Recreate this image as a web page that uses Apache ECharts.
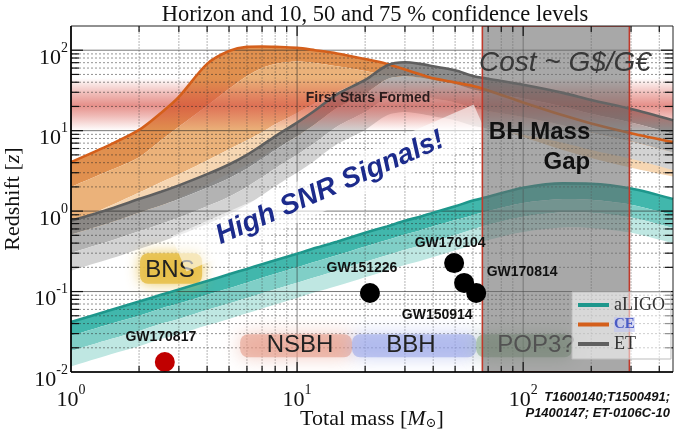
<!DOCTYPE html>
<html>
<head>
<meta charset="utf-8">
<script src="https://cdn.jsdelivr.net/npm/echarts@6/dist/echarts.min.js"></script>
<style>
  html, body { margin: 0; padding: 0; background: #fff; }
  #chart { width: 674px; height: 434px; }
</style>
</head>
<body>
<div id="chart"></div>
<script>
// Total mass grid (solar masses) shared by every detector curve
const massGrid = [1, 1.5, 2, 2.5, 3, 4, 5, 6, 7, 8, 10, 12, 15, 20, 25, 30, 35, 40, 50, 60, 70, 100, 150, 200, 300, 460];

// Cosmic Explorer: horizon and 10 / 50 / 75 % redshift curves
const ceHorizon = [4.07, 6.76, 10.2, 16.6, 26.3, 67.6, 97.7, 110, 111, 110, 107, 100, 91.2, 77.6, 67.6, 57.5, 50.1, 44.7, 39.8, 35.9, 31.6, 22.4, 15.5, 12.3, 9.3, 7.2];
const ce10 = [2.0, 3.24, 4.68, 7.59, 11.2, 20.4, 33.1, 47.9, 60.3, 67.6, 72.4, 69.2, 63.1, 55.0, 47.9, 41.7, 37.2, 33.1, 29.5, 26.9, 24.0, 17.0, 11.7, 9.33, 7.08, 5.50];
const ce50 = [0.708, 1.17, 1.70, 2.29, 2.88, 4.27, 5.89, 7.59, 9.55, 12.0, 16.6, 21.9, 30.2, 41.7, 47.9, 43.7, 38.0, 33.9, 29.5, 26.3, 23.4, 16.6, 11.5, 9.12, 6.92, 5.37];
const ce75 = [0.355, 0.589, 0.851, 1.15, 1.45, 2.14, 2.95, 3.80, 4.79, 6.03, 8.32, 11.0, 15.1, 20.9, 24.0, 21.9, 19.1, 17.0, 14.8, 13.2, 11.7, 8.32, 5.75, 4.57, 3.47, 2.69];

// Einstein Telescope
const etHorizon = [0.759, 1.07, 1.41, 1.74, 2.09, 2.88, 3.80, 5.01, 6.61, 8.51, 12.6, 17.8, 28.2, 42.7, 64.6, 70.8, 67.6, 63.1, 56.2, 47.9, 44.2, 37.2, 29.5, 24.0, 18.6, 13.5];
const et10 = [0.513, 0.724, 0.955, 1.17, 1.41, 1.95, 2.57, 3.39, 4.47, 5.75, 8.51, 12.0, 19.1, 28.8, 43.7, 47.9, 45.7, 42.7, 38.0, 32.4, 29.9, 25.1, 20.0, 16.2, 12.6, 9.12];
const et50 = [0.302, 0.427, 0.562, 0.692, 0.832, 1.15, 1.51, 2.0, 2.63, 3.39, 5.01, 7.08, 11.2, 17.0, 25.7, 28.2, 26.9, 25.1, 22.4, 19.1, 17.6, 14.8, 11.7, 9.55, 7.41, 5.37];
const et75 = [0.182, 0.257, 0.339, 0.417, 0.501, 0.692, 0.912, 1.20, 1.58, 2.04, 3.02, 4.27, 6.76, 10.2, 15.5, 17.0, 16.2, 15.1, 13.5, 11.5, 10.6, 8.91, 7.08, 5.75, 4.47, 3.24];

// Advanced LIGO
const aligoHorizon = [0.0417, 0.0589, 0.0750, 0.0912, 0.106, 0.135, 0.164, 0.191, 0.219, 0.245, 0.295, 0.347, 0.417, 0.537, 0.646, 0.759, 0.851, 0.955, 1.15, 1.35, 1.51, 1.95, 2.21, 2.19, 1.91, 1.41];
const aligo10 = [0.0282, 0.0398, 0.0501, 0.0617, 0.0708, 0.0912, 0.110, 0.129, 0.148, 0.166, 0.200, 0.234, 0.282, 0.363, 0.437, 0.513, 0.575, 0.646, 0.776, 0.891, 1.0, 1.26, 1.41, 1.38, 1.20, 0.891];
const aligo50 = [0.0182, 0.0257, 0.0324, 0.0398, 0.0457, 0.0589, 0.0708, 0.0832, 0.0955, 0.107, 0.129, 0.151, 0.182, 0.234, 0.282, 0.331, 0.372, 0.417, 0.501, 0.589, 0.676, 0.851, 0.966, 0.955, 0.832, 0.617];
const aligo75 = [0.0117, 0.0166, 0.0209, 0.0257, 0.0295, 0.0380, 0.0457, 0.0537, 0.0617, 0.0692, 0.0832, 0.0977, 0.117, 0.151, 0.182, 0.214, 0.240, 0.269, 0.324, 0.380, 0.437, 0.550, 0.624, 0.617, 0.537, 0.398];

// Detected events: total mass and redshift
const eventNames = ['GW170817', 'GW151226', 'GW170104', 'GW170814', 'GW150914'];
const eventMass = [2.6, 21.0, 49.5, 54.8, 62.0];
const eventZ = [0.0133, 0.096, 0.226, 0.128, 0.096];

// Shaded regions
const massGapRange = [66, 295];
const firstStarsRange = [10, 45];

// Axis extents and decade ticks
const xRange = [1, 460];
const yRange = [0.01, 200];
const xDecades = [1, 10, 100];
const yDecades = [0.01, 0.1, 1, 10, 100];

const SANS = 'Liberation Sans';
const SERIF = 'Liberation Serif';
const SMOOTH = 0.3;

function decadeLabel(v) {
  const e = Math.log10(v);
  const r = Math.round(e);
  if (Math.abs(e - r) > 1e-6) return '';
  return '{b|10}{s|' + r + '}';
}
const labelRich = {
  b: { fontFamily: SERIF, fontSize: 22, lineHeight: 34, color: '#111' },
  s: { fontFamily: SERIF, fontSize: 14, verticalAlign: 'top', color: '#111' }
};

// a custom series that draws one group of shapes from data coordinates
function layer(z, draw, clip) {
  return {
    type: 'custom', coordinateSystem: 'cartesian2d', z, silent: true,
    clip: clip !== false, animation: false,
    data: [[xRange[0], yRange[0]]],
    renderItem: (params, api) => draw(api)
  };
}

// filled region between two curves; the corner points are doubled so the
// smoothing keeps the ends square
function band(upper, lower, fill, z) {
  return layer(z, api => {
    const top = massGrid.map((m, i) => api.coord([m, upper[i]]));
    const bottom = massGrid.map((m, i) => api.coord([m, lower[i]])).reverse();
    const pts = [top[0]].concat(top, [top[top.length - 1], bottom[0]], bottom, [bottom[bottom.length - 1]]);
    return { type: 'polygon', shape: { points: pts, smooth: SMOOTH }, style: { fill } };
  });
}

function rectBetween(api, x0, y0, x1, y1) {
  const a = api.coord([x0, y1]);
  const b = api.coord([x1, y0]);
  return { x: a[0], y: a[1], width: b[0] - a[0], height: b[1] - a[1] };
}

function label(api, at, text, style, extra) {
  const p = api.coord(at);
  return Object.assign({
    type: 'text', x: p[0], y: p[1],
    style: Object.assign({ text, align: 'center', verticalAlign: 'middle' }, style)
  }, extra || {});
}

function horizonLine(name, values, color) {
  return {
    name, type: 'line', z: 5, showSymbol: false, silent: true, animation: false, smooth: SMOOTH,
    data: massGrid.map((m, i) => [m, values[i]]),
    lineStyle: { color, width: 2.6 },
    itemStyle: { color }
  };
}

// grid lines, ticks and frame
function gridValues(decades, limit) {
  const out = [];
  decades.forEach(d => { for (let k = 1; k <= 9; k++) { const v = k * d; if (v <= limit * 1.0001) out.push({ v, major: k === 1 }); } });
  return out;
}
const xGrid = gridValues(xDecades, xRange[1]);
const yGrid = gridValues(yDecades, yRange[1]);

const gridLayer = layer(4, api => {
  const children = [];
  const [l, t] = api.coord([xRange[0], yRange[1]]);
  const [r, b] = api.coord([xRange[1], yRange[0]]);
  xGrid.forEach(g => {
    if (g.v <= xRange[0] || g.v >= xRange[1]) return;
    const x = api.coord([g.v, yRange[0]])[0];
    children.push({ type: 'line', shape: { x1: x, y1: t, x2: x, y2: b },
      style: { stroke: g.major ? 'rgba(40,40,40,0.55)' : 'rgba(60,60,60,0.38)', lineWidth: 1, lineDash: g.major ? null : [2, 1] } });
  });
  yGrid.forEach(g => {
    if (g.v <= yRange[0] || g.v >= yRange[1]) return;
    const y = api.coord([xRange[0], g.v])[1];
    children.push({ type: 'line', shape: { x1: l, y1: y, x2: r, y2: y },
      style: { stroke: g.major ? 'rgba(30,30,30,0.6)' : 'rgba(40,40,40,0.5)', lineWidth: 1, lineDash: g.major ? null : [2, 2] } });
  });
  return { type: 'group', children };
});

const frameLayer = layer(9, api => {
  const children = [];
  const [l, t] = api.coord([xRange[0], yRange[1]]);
  const [r, b] = api.coord([xRange[1], yRange[0]]);
  const tick = { stroke: '#111', lineWidth: 1.2 };
  yGrid.forEach(g => {
    if (g.v <= yRange[0] || g.v >= yRange[1]) return;
    const y = api.coord([xRange[0], g.v])[1];
    const len = g.major ? 12 : 8;
    children.push({ type: 'line', shape: { x1: l, y1: y, x2: l + len, y2: y }, style: tick });
    children.push({ type: 'line', shape: { x1: r, y1: y, x2: r - len, y2: y }, style: tick });
  });
  xGrid.forEach(g => {
    if (g.v <= xRange[0] || g.v >= xRange[1]) return;
    const x = api.coord([g.v, yRange[0]])[0];
    const len = g.major ? 10 : 6;
    children.push({ type: 'line', shape: { x1: x, y1: b, x2: x, y2: b - len }, style: tick });
    children.push({ type: 'line', shape: { x1: x, y1: t, x2: x, y2: t + len }, style: tick });
  });
  children.push({ type: 'rect', shape: { x: l, y: t, width: r - l, height: b - t }, style: { fill: null, stroke: '#222', lineWidth: 1 } });
  children.push({ type: 'line', shape: { x1: l, y1: t, x2: l, y2: b }, style: { stroke: '#000', lineWidth: 1.6 } });
  children.push({ type: 'line', shape: { x1: l, y1: b, x2: r, y2: b }, style: { stroke: '#000', lineWidth: 1.6 } });
  return { type: 'group', children };
}, false);

// "first stars" redshift band
const firstStarsLayer = layer(3, api => ({
  type: 'rect',
  shape: rectBetween(api, xRange[0], firstStarsRange[0], xRange[1], firstStarsRange[1]),
  style: {
    fill: new echarts.graphic.LinearGradient(0, 0, 0, 1, [
      { offset: 0, color: 'rgba(215,75,65,0)' },
      { offset: 0.3, color: 'rgba(215,75,65,0.38)' },
      { offset: 0.52, color: 'rgba(212,70,60,0.6)' },
      { offset: 0.72, color: 'rgba(215,75,65,0.38)' },
      { offset: 1, color: 'rgba(215,75,65,0)' }
    ])
  }
}));

// source-class labels with soft coloured backdrops
const regionLayer = layer(5, api => {
  const soft = (x0, y0, x1, y1, color, glow, blur) => ({
    type: 'rect', shape: Object.assign(rectBetween(api, x0, y0, x1, y1), { r: 8 }),
    style: { fill: color, shadowBlur: blur, shadowColor: glow }
  });
  return { type: 'group', children: [
    soft(2.02, 0.125, 3.8, 0.30, 'rgba(230,190,70,0.85)', 'rgba(230,190,70,1)', 14),
    soft(5.6, 0.0152, 17.5, 0.0295, 'rgba(228,150,130,0.55)', 'rgba(228,150,130,0.9)', 18),
    soft(17.5, 0.0152, 62, 0.0295, 'rgba(150,163,232,0.55)', 'rgba(150,163,232,0.9)', 18),
    soft(62, 0.0152, 165, 0.0295, 'rgba(125,165,125,0.5)', 'rgba(125,165,125,0.9)', 18)
  ] };
});

const textBase = { fontFamily: SANS, fontSize: 24, fill: '#222' };
const regionTextLayer = layer(6, api => {
  const ang = 23.6 * Math.PI / 180;
  const snrAt = api.coord([14.0, 1.94]);
  return { type: 'group', children: [
    label(api, [2.74, 0.185], 'BNS', textBase),
    label(api, [10.3, 0.0216], 'NSBH', textBase),
    label(api, [31.9, 0.0216], 'BBH', textBase),
    label(api, [114, 0.0216], 'POP3?', Object.assign({}, textBase, { fill: '#333' })),
    { type: 'rect', x: snrAt[0], y: snrAt[1], rotation: ang,
      shape: { x: -165, y: -19, width: 330, height: 38 }, style: { fill: 'rgba(255,255,255,0.6)' } },
    { type: 'text', x: snrAt[0], y: snrAt[1], rotation: ang,
      style: { text: 'High SNR Signals!', align: 'center', verticalAlign: 'middle',
        fontFamily: SANS, fontSize: 28, fontWeight: 'bold', fontStyle: 'italic', fill: '#1c2b8c' } },
    label(api, [20.6, 25.4], 'First Stars Formed', { fontFamily: SANS, fontSize: 14, fontWeight: 'bold', fill: '#2a1c1c' })
  ] };
});

// BH mass gap overlay
const gapLayer = layer(7, api => ({
  type: 'rect',
  shape: rectBetween(api, massGapRange[0], yRange[0], massGapRange[1], yRange[1]),
  style: { fill: 'rgba(105,105,105,0.58)', stroke: '#c0392b', lineWidth: 1.6 }
}));

const gapTextLayer = layer(8, api => ({ type: 'group', children: [
  label(api, [153, 69], 'Cost ~ G$/G€', { fontFamily: SANS, fontSize: 28, fontStyle: 'italic', fill: '#383838' }),
  label(api, [198, 6.27], 'BH Mass\nGap', { fontFamily: SANS, fontSize: 24, fontWeight: 'bold', fill: '#111', align: 'right', lineHeight: 30 })
] }));

// label placement around each event marker
const eventLabelOffset = {
  GW170817: [-4, -25], GW151226: [-8, -25], GW170104: [-4, -20], GW170814: [58, -11], GW150914: [-39, 22]
};

const option = {
  animation: false,
  backgroundColor: '#fff',
  grid: { left: 71, top: 26, right: 1, bottom: 62, containLabel: false, outerBoundsMode: 'none' },
  xAxis: {
    type: 'log', logBase: 10, min: xRange[0], max: xRange[1],
    name: 'Total mass [{i|M}{sub|⊙}]', nameLocation: 'middle', nameGap: 36, nameMoveOverlap: false,
    nameTextStyle: { fontFamily: SERIF, fontSize: 22, color: '#111',
      rich: { i: { fontFamily: SERIF, fontSize: 22, fontStyle: 'italic', color: '#111' },
              sub: { fontFamily: 'DejaVu Serif', fontSize: 13, verticalAlign: 'bottom', lineHeight: 22, color: '#111' } } },
    axisLine: { show: false }, axisTick: { show: false }, splitLine: { show: false },
    axisLabel: { formatter: decadeLabel, rich: labelRich, margin: 11, showMaxLabel: false }
  },
  yAxis: {
    type: 'log', logBase: 10, min: yRange[0], max: yRange[1],
    name: 'Redshift [{i|z}]', nameLocation: 'middle', nameGap: 47, nameMoveOverlap: false,
    nameTextStyle: { fontFamily: SERIF, fontSize: 22, color: '#111',
      rich: { i: { fontFamily: SERIF, fontSize: 22, fontStyle: 'italic', color: '#111' } } },
    axisLine: { show: false }, axisTick: { show: false }, splitLine: { show: false },
    axisLabel: { formatter: decadeLabel, rich: labelRich, margin: 3, padding: [16, 0, 0, 0], showMaxLabel: false }
  },
  legend: {
    data: [{ name: 'aLIGO', icon: 'rect' }, { name: 'CE', icon: 'rect' }, { name: 'ET', icon: 'rect' }],
    orient: 'vertical', left: 572, top: 292, itemWidth: 31, itemHeight: 4, itemGap: 3,
    padding: [4, 6, 6, 6], backgroundColor: 'rgba(255,255,255,0.55)', borderColor: '#bdbdbd', borderWidth: 1,
    selectedMode: false, z: 20,
    formatter: n => n === 'CE' ? '{ce|CE}' : n,
    textStyle: { fontFamily: SERIF, fontSize: 18, color: '#333',
      rich: { ce: { fontFamily: SERIF, fontSize: 15, fontWeight: 'bold', color: '#4a5bc4', backgroundColor: 'rgba(190,195,240,0.6)' } } }
  },
  graphic: [
    { type: 'text', x: 375, y: 15, style: { text: 'Horizon and 10, 50 and 75 % confidence levels', align: 'center', verticalAlign: 'middle',
      fontFamily: SERIF, fontSize: 22.5, fill: '#111' } },
    { type: 'text', x: 670, y: 389, style: { text: 'T1600140;T1500491;\nP1400147; ET-0106C-10', align: 'right', verticalAlign: 'top', lineHeight: 16,
      fontFamily: SANS, fontSize: 13, fontWeight: 'bold', fontStyle: 'italic', fill: '#111' } }
  ],
  series: [
    band(ceHorizon, ce10, '#e0904f', 2),
    band(ce10, ce50, '#ebb27a', 2),
    band(ce50, ce75, '#f6d6b2', 2),
    band(etHorizon, et10, 'rgba(128,128,128,0.9)', 2),
    band(et10, et50, '#b3b3b3', 2),
    band(et50, et75, '#d3d3d3', 2),
    band(aligoHorizon, aligo10, '#41b7ac', 2),
    band(aligo10, aligo50, '#80cfc7', 2),
    band(aligo50, aligo75, '#bfe7e2', 2),
    firstStarsLayer,
    gridLayer,
    horizonLine('CE', ceHorizon, '#d45f1b'),
    horizonLine('ET', etHorizon, '#5f5f5f'),
    horizonLine('aLIGO', aligoHorizon, '#1e978c'),
    regionLayer,
    regionTextLayer,
    gapLayer,
    gapTextLayer,
    {
      type: 'scatter', z: 8, symbolSize: 20, silent: true, animation: false,
      data: eventNames.map((n, i) => ({
        name: n, value: [eventMass[i], eventZ[i]],
        itemStyle: { color: n === 'GW170817' ? '#c00000' : '#000', opacity: 1 },
        label: { offset: eventLabelOffset[n] }
      })),
      itemStyle: { opacity: 1 },
      label: { show: true, position: 'inside', formatter: '{b}', fontFamily: SANS, fontWeight: 'bold', fontSize: 14, color: '#111', textBorderWidth: 0 }
    },
    frameLayer
  ]
};

const chart = echarts.init(document.getElementById('chart'), null, { renderer: 'canvas' });
chart.setOption(option);
</script>
</body>
</html>
